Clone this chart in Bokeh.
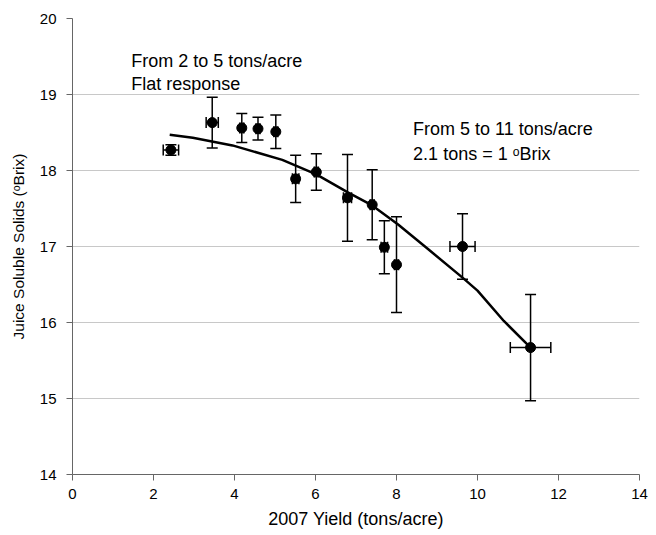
from bokeh.plotting import figure
from bokeh.models import ColumnDataSource, Whisker, FixedTicker, Label
from bokeh.embed import file_html
from bokeh.resources import INLINE

# data
yield_x = [2.43, 3.45, 4.18, 4.58, 5.02, 5.51, 6.02, 6.79, 7.40, 7.70, 8.00, 9.63, 11.31]
brix_y = [18.27, 18.63, 18.56, 18.55, 18.51, 17.89, 17.98, 17.64, 17.55, 16.99, 16.76, 17.00, 15.67]
y_err = [0.07, 0.335, 0.19, 0.15, 0.22, 0.31, 0.24, 0.57, 0.46, 0.35, 0.63, 0.43, 0.70]
x_err = [0.19, 0.15, 0.05, 0.05, 0.05, 0.08, 0.05, 0.10, 0.05, 0.08, 0.05, 0.31, 0.50]

curve_x = [2.40, 2.97, 3.95, 5.18, 6.02, 6.81, 7.40, 8.04, 8.77, 9.63, 10.0, 10.65, 11.31]
curve_y = [18.47, 18.43, 18.33, 18.14, 17.95, 17.71, 17.54, 17.29, 16.97, 16.59, 16.42, 16.02, 15.67]

x_ticks = [0, 2, 4, 6, 8, 10, 12, 14]
y_ticks = [14, 15, 16, 17, 18, 19, 20]

FONT = "Liberation Sans"

src = ColumnDataSource(dict(
    x=yield_x, y=brix_y,
    ylo=[b - e for b, e in zip(brix_y, y_err)],
    yhi=[b + e for b, e in zip(brix_y, y_err)],
    xlo=[a - e for a, e in zip(yield_x, x_err)],
    xhi=[a + e for a, e in zip(yield_x, x_err)],
))

p = figure(output_backend="svg", toolbar_location=None,
           frame_width=567, frame_height=456,
           x_range=(0, 14), y_range=(14, 20),
           min_border_left=72, min_border_top=18, min_border_right=14,
           min_border_bottom=60)
p.outline_line_color = None
p.background_fill_color = "white"
p.border_fill_color = "white"

p.xgrid.visible = False
p.ygrid.grid_line_color = "#c8c8c8"
p.ygrid.grid_line_width = 1

for ax in (p.xaxis[0], p.yaxis[0]):
    ax.major_label_text_font = FONT
    ax.major_label_text_font_size = "15px"
    ax.major_label_text_color = "black"
    ax.axis_label_text_font = FONT
    ax.axis_label_text_font_style = "normal"
    ax.axis_label_text_color = "black"
    ax.axis_line_color = "#666666"
    ax.major_tick_line_color = "#666666"
    ax.major_tick_out = 6
    ax.major_tick_in = 0
    ax.minor_tick_line_color = None

p.xaxis.axis_label_text_font_size = "18px"
p.yaxis.axis_label_text_font_size = "15.5px"
p.xaxis.ticker = FixedTicker(ticks=x_ticks)
p.yaxis.ticker = FixedTicker(ticks=y_ticks)
p.xaxis.axis_label = "2007 Yield (tons/acre)"
p.yaxis.axis_label = "Juice Soluble Solids (\u1d52Brix)"
p.xaxis.major_label_standoff = 8
p.yaxis.major_label_standoff = 10
p.xaxis.axis_label_standoff = 7
p.yaxis.axis_label_standoff = 10

# fitted curve
p.line(curve_x, curve_y, line_color="black", line_width=2.5)

# error bars
wy = Whisker(source=src, base="x", lower="ylo", upper="yhi", dimension="height",
             line_color="black", line_width=1.5)
wy.upper_head.size = 11
wy.lower_head.size = 11
wy.upper_head.line_width = 1.5
wy.lower_head.line_width = 1.5
p.add_layout(wy)

wx = Whisker(source=src, base="y", lower="xlo", upper="xhi", dimension="width",
             line_color="black", line_width=1.5)
wx.upper_head.size = 11
wx.lower_head.size = 11
wx.upper_head.line_width = 1.5
wx.lower_head.line_width = 1.5
p.add_layout(wx)

p.scatter("x", "y", source=src, size=10, fill_color="black", line_color="black")

for txt, xx, yy in [("From 2 to 5 tons/acre", 1.45, 19.44),
                    ("Flat response", 1.45, 19.14),
                    ("From 5 to 11 tons/acre", 8.41, 18.55),
                    ("2.1 tons = 1 \u1d52Brix", 8.41, 18.22)]:
    p.add_layout(Label(x=xx, y=yy, text=txt, text_font=FONT, text_font_size="18px",
                       text_color="black", text_baseline="middle"))

open("out.html", "w").write(file_html(p, INLINE))
